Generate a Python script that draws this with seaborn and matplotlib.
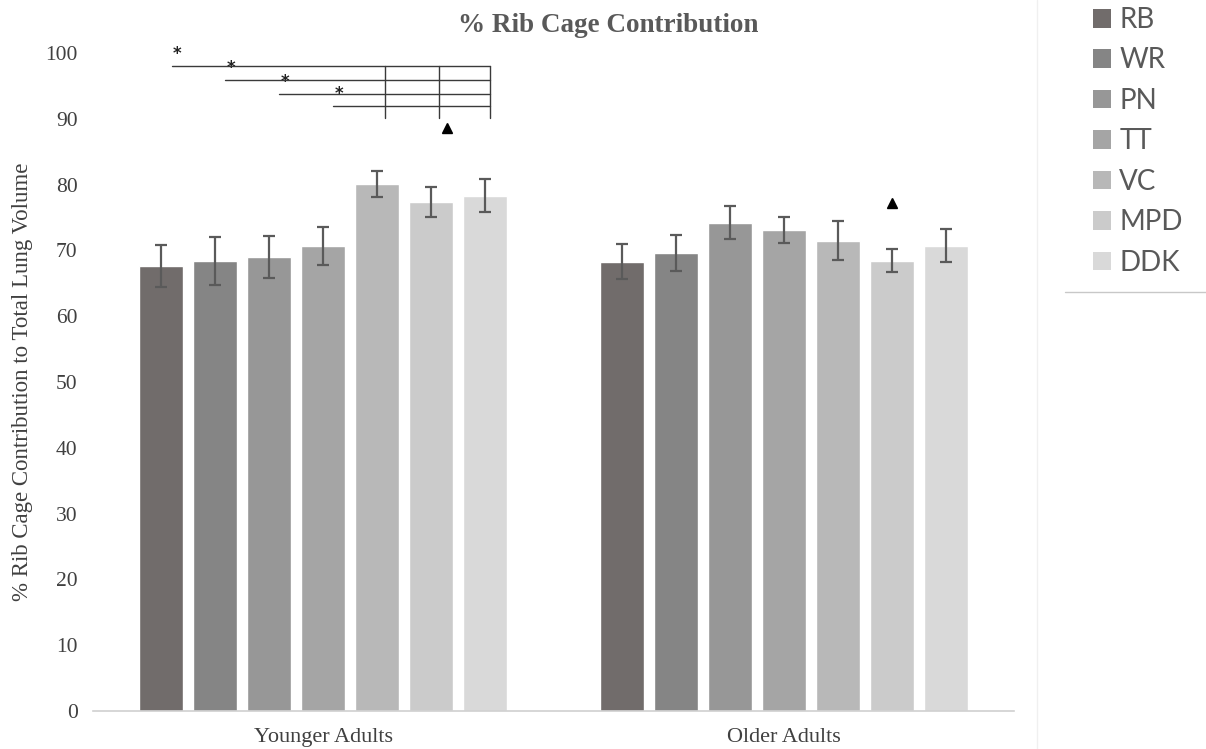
import matplotlib
matplotlib.use("Agg")
import matplotlib.pyplot as plt
import seaborn as sns
import pandas as pd
from matplotlib.patches import Patch
from matplotlib.lines import Line2D

groups = ["Younger Adults", "Older Adults"]
conditions = ["RB", "WR", "PN", "TT", "VC", "MPD", "DDK"]
young_vals = [67.6, 68.4, 69.0, 70.7, 80.1, 77.4, 78.3]
young_err = [3.2, 3.6, 3.2, 2.9, 2.0, 2.3, 2.5]
older_vals = [68.3, 69.6, 74.2, 73.1, 71.5, 68.4, 70.7]
older_err = [2.6, 2.8, 2.5, 2.0, 2.9, 1.75, 2.5]
colors = ["#716c6b", "#858585", "#979797", "#a5a5a5", "#b8b8b8", "#cbcbcb", "#d9d9d9"]
yticks = [0, 10, 20, 30, 40, 50, 60, 70, 80, 90, 100]

# significance: left-end conditions of brackets (all end at DDK), verticals at VC, MPD, DDK
sig_left = ["RB", "WR", "PN", "TT"]
sig_levels = [98.0, 95.9, 93.8, 91.9]
sig_ticks = ["VC", "MPD", "DDK"]
sig_tick_bottom = 90.1
tri_young = ("MPD", 88.6)
tri_older = ("MPD", 77.2)

rows = []
for g, vals, errs in [(groups[0], young_vals, young_err), (groups[1], older_vals, older_err)]:
    for c, v, e in zip(conditions, vals, errs):
        rows.append({"group": g, "cond": c, "value": v, "err": e})
df = pd.DataFrame(rows)

sns.set_style("white")
plt.rcParams["font.family"] = ["Liberation Serif", "DejaVu Serif"]

fig = plt.figure(figsize=(12.06, 7.49), dpi=100)
ax = fig.add_axes([93/1206, 1-711/749, (1014-93)/1206, (711-53)/749])

sns.barplot(data=df, x="group", y="value", hue="cond", order=groups, hue_order=conditions,
            palette=colors, width=0.82, gap=0.185, errorbar=None, ax=ax, legend=False,
            saturation=1)

# error bars at the library's bar positions
bar_containers = list(ax.containers)
centers = {}
for ci, cont in enumerate(bar_containers):
    for gi, bar in enumerate(cont.patches):
        xc = bar.get_x() + bar.get_width() / 2
        centers[(conditions[ci], gi)] = xc
        sub = df[(df.group == groups[gi]) & (df.cond == conditions[ci])].iloc[0]
        ax.errorbar(xc, sub.value, yerr=sub.err, fmt="none", ecolor="#5a5a5a",
                    elinewidth=1.6, capsize=4.5, capthick=1.6, zorder=3)

ax.set_ylim(0, 100)
ax.set_yticks(yticks)
ax.set_yticklabels([str(t) for t in yticks], fontsize=15.5, color="#404040")
ax.tick_params(axis="x", labelsize=16, colors="#404040", length=0, pad=12)
ax.tick_params(axis="y", length=0, pad=11)
for s in ["top", "right", "left"]:
    ax.spines[s].set_visible(False)
ax.spines["bottom"].set_color("#d0d0d0")
ax.spines["bottom"].set_linewidth(1.2)
ax.set_xlabel("")
ax.set_ylabel("% Rib Cage Contribution to Total Lung Volume", fontsize=16.5, color="#404040")
ax.yaxis.set_label_coords(-(93-33)/921, 0.5)
ax.set_xlim(-0.5, 1.5)

# significance brackets (younger group)
off = 0.022
right_x = centers[("DDK", 0)] + 0.011
for c, lvl in zip(sig_left, sig_levels):
    lx = centers[(c, 0)] + off
    ax.plot([lx, right_x], [lvl, lvl], color="#3a3a3a", lw=1.0, clip_on=False, zorder=4)
    ax.text(lx + 0.012, lvl + 0.5, "*", fontsize=12, color="#222222", ha="center", va="bottom",
            family="DejaVu Sans", fontweight="bold")
for c in sig_ticks:
    tx = centers[(c, 0)] + (0.016 if c != "DDK" else 0.011)
    ax.plot([tx, tx], [sig_levels[0], sig_tick_bottom], color="#3a3a3a", lw=1.0, clip_on=False, zorder=4)

ax.plot(centers[(tri_young[0], 0)] + 0.035, tri_young[1], marker="^", color="black", markersize=7,
        clip_on=False, zorder=5)
ax.plot(centers[(tri_older[0], 1)], tri_older[1], marker="^", color="black", markersize=7,
        clip_on=False, zorder=5)

fig.suptitle("% Rib Cage Contribution", x=608/1206, y=1-25/749, va="center",
             fontsize=19.5, fontweight="bold", color="#595959")

handles = [Patch(facecolor=c, edgecolor="none", label=l) for c, l in zip(colors, conditions)]
leg = fig.legend(handles=handles, loc="upper left", bbox_to_anchor=(1068/1206, 1+18/749),
                 frameon=False, prop={"family": ["Lato", "DejaVu Sans"], "size": 20},
                 handlelength=0.65, handleheight=0.65, handletextpad=0.3, labelspacing=0.52,
                 labelcolor="#595959")

fig.add_artist(Line2D([1065/1206, 1.0], [1-292/749, 1-292/749], color="#c8c8c8", lw=1.0,
                      transform=fig.transFigure))
fig.add_artist(Line2D([1037/1206, 1037/1206], [0, 1], color="#f0f0f0", lw=1.0,
                      transform=fig.transFigure))

fig.savefig("out.png", dpi=100)
